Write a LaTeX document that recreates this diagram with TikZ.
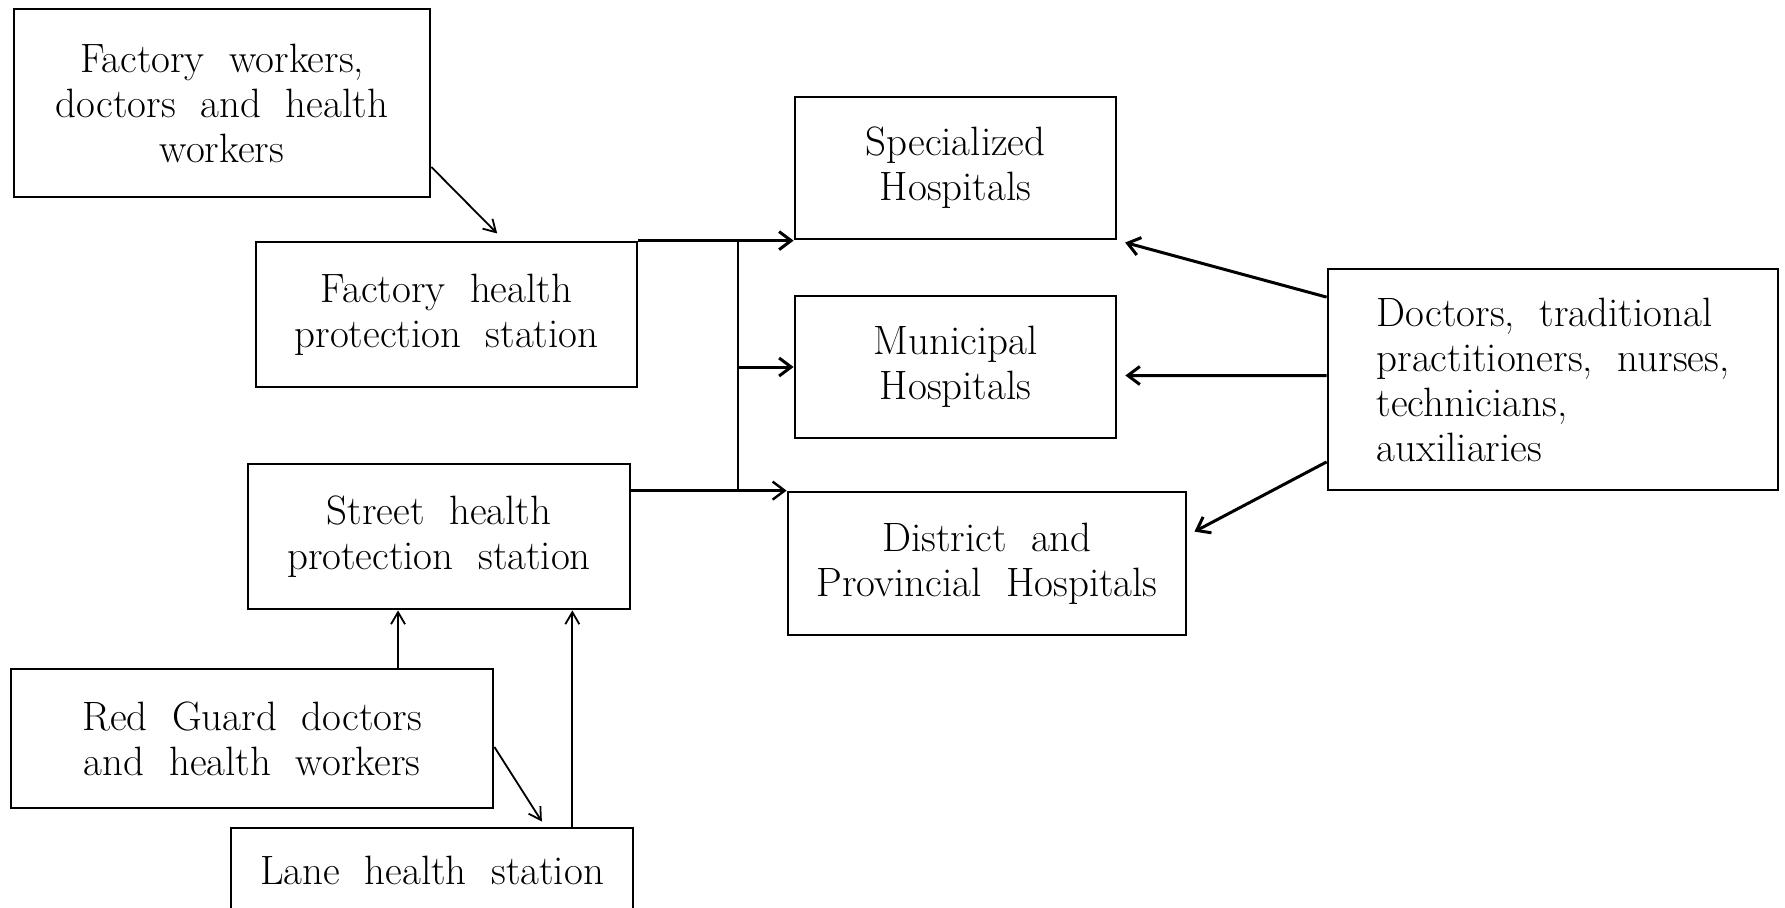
\documentclass[tikz,border=0pt]{standalone}
\usetikzlibrary{arrows.meta,positioning}
\newcommand\boxfont{\fontsize{20.5}{22.5}\selectfont\spaceskip=0.6em plus 0.1em\relax}
\tikzset{
every node/.style={draw,line width=1.4pt,inner sep=0pt,font=\boxfont},
style1/.style={rectangle,align=center},
style2/.style={rectangle,align=left},
style3/.style={-{Straight Barb[length=6pt,width=9pt]},line width=1.5pt},
style4/.style={-{Straight Barb[length=6pt,width=7pt]},line width=0.9pt}
}
\begin{document}
\begin{tikzpicture}[x=0.5pt,y=-0.5pt]
\useasboundingbox[fill=white] (0,0) rectangle (1785,907);

% stations on the left
\node[style1,minimum width=208pt,minimum height=94pt] (w1) at (222,103) {Factory workers,\\doctors and health\\workers};
\node[style1,minimum width=190.5pt,minimum height=72.5pt] (s1) at (446.5,314.5) {Factory health\\protection station};
\node[style1,minimum width=191pt,minimum height=72.5pt] (s2) at (439,536.5) {Street health\\protection station};
\node[style1,minimum width=241pt,minimum height=69.5pt] (w2) at (252,738.5) {Red Guard doctors\\and health workers};
\node[style1,minimum width=201pt,minimum height=42pt] (s3) at (432,870) {Lane health station};

% hospitals
\node[style1,minimum width=160.5pt,minimum height=71pt] (h1) at (955.5,168) {Specialized\\Hospitals};
\node[style1,minimum width=160.5pt,minimum height=71pt] (h2) at (955.5,367) {Municipal\\Hospitals};
\node[style1,minimum width=199pt,minimum height=71.5pt] (h3) at (987,563.5) {District and\\Provincial Hospitals};

\node[style2,minimum width=225pt,minimum height=110.5pt] (d1) at (1553,379.5) {Doctors, traditional\\practitioners, nurses,\\technicians,\\auxiliaries};

\coordinate (j1) at (738,241);
\coordinate (j2) at (738,492);

\draw[style4,shorten >=5pt] (w1.-17) -- (s1.52);
\draw[style3] (s1.north east) -- (s1.north east -| h1.west);
\draw[line width=1.1pt] (j1) -- (j2);
\draw[style3] (j1 |- h2.west) -- (h2.west);
\draw[style3,line width=1.2pt] (s2.east |- h3.north west) -- (h3.north west);

\foreach \s/\t in {160/h1.south east,179/h2.-3,200/h3.8}
  \draw[style3,shorten >=4pt] (d1.\s) -- (\t);

\draw[style4] (s2.-119.5 |- w2.north) -- (s2.-119.5);
\draw[style4] (s2.-29.15 |- s3.north) -- (s2.-29.15);
\draw[style4,shorten >=3pt] (w2.-2) -- (s3.21);
\end{tikzpicture}
\end{document}
